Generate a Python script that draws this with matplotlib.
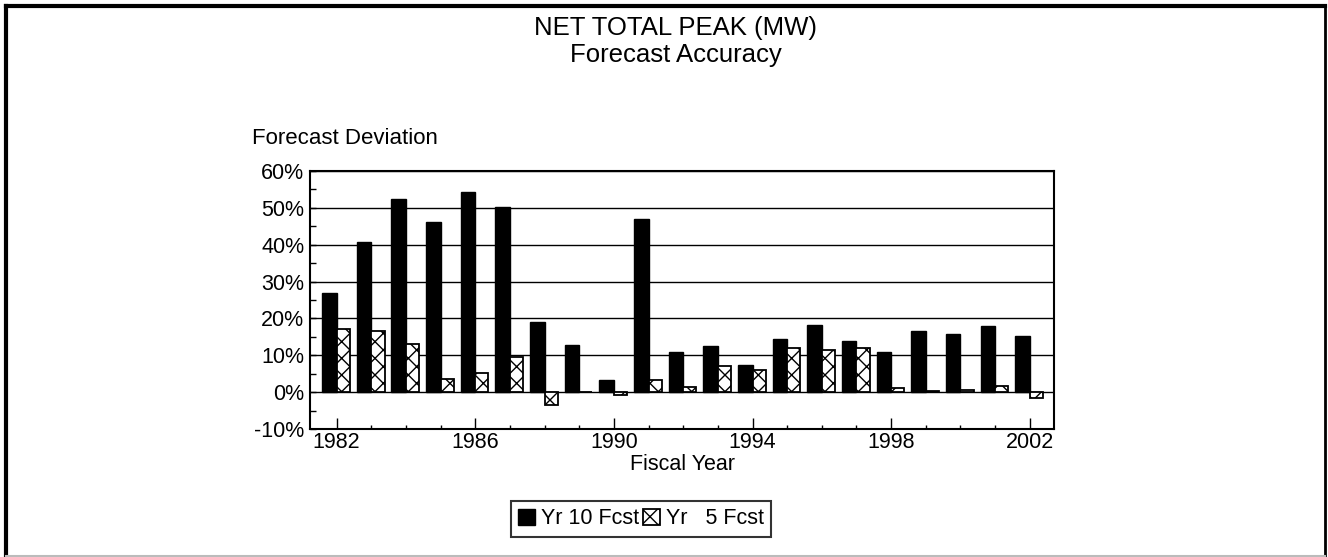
import numpy as np
import matplotlib.pyplot as plt
from matplotlib.lines import Line2D
from matplotlib.ticker import MultipleLocator, FixedLocator, FuncFormatter

plt.rcParams['font.family'] = ['Liberation Sans', 'DejaVu Sans']
plt.rcParams['hatch.linewidth'] = 1.0

years = np.arange(1982, 2003)
# forecast deviation, percent
yr10 = [26.8, 40.7, 52.3, 46.1, 54.3, 50.2, 19.1, 12.9, 3.4, 46.9, 10.9,
        12.4, 7.3, 14.3, 18.1, 14.0, 10.8, 16.5, 15.9, 18.0, 15.2]
yr5 = [17.1, 16.7, 13.1, 3.6, 5.1, 9.6, -3.4, 0.0, -0.9, 3.4, 1.4,
       7.1, 5.9, 12.1, 11.5, 12.1, 1.0, 0.3, 0.7, 1.6, -1.6]
labels = ['Yr 10 Fcst', 'Yr   5 Fcst']
year_ticks = [1982, 1986, 1990, 1994, 1998, 2002]

fig = plt.figure(figsize=(13.28, 5.57), dpi=100)
ax = fig.add_axes([310 / 1328, 1 - 429 / 557, (1054 - 310) / 1328, (429 - 171) / 557])

ax.bar(years - 0.42, yr10, width=0.42, align='edge', color='black',
       edgecolor='black', linewidth=1, label=labels[0], zorder=3)
ax.bar(years, yr5, width=0.38, align='edge', color='white', hatch='xx',
       edgecolor='black', linewidth=1.3, label=labels[1], zorder=3)

ax.set_xlim(1981.23, 2002.7)
ax.set_ylim(-10, 60)
ax.yaxis.set_major_locator(MultipleLocator(10))
ax.yaxis.set_minor_locator(MultipleLocator(5))
ax.yaxis.set_major_formatter(FuncFormatter(lambda v, p: f'{v:.0f}%'))
ax.xaxis.set_major_locator(FixedLocator(year_ticks))
ax.xaxis.set_minor_locator(MultipleLocator(1))
ax.tick_params(axis='both', which='both', direction='in', labelsize=15.5, width=1)
ax.tick_params(axis='x', which='major', length=8, pad=2)
ax.tick_params(axis='x', which='minor', length=3)
ax.tick_params(axis='y', which='major', length=4, pad=4)
ax.tick_params(axis='y', which='minor', length=4)
ax.grid(axis='y', color='black', linewidth=1, zorder=1)
ax.set_axisbelow(True)
for s in ax.spines.values():
    s.set_linewidth(1.5)

ax.set_xlabel('Fiscal Year', fontsize=15.5, labelpad=1)
fig.text(252 / 1328, 1 - 138 / 557, 'Forecast Deviation', fontsize=16,
         ha='left', va='center')

fig.text(676 / 1328, 1 - 28 / 557, 'NET TOTAL PEAK (MW)', fontsize=18.5,
         ha='center', va='center')
fig.text(676 / 1328, 1 - 55 / 557, 'Forecast Accuracy', fontsize=18.5,
         ha='center', va='center')

leg = fig.legend(loc='center', bbox_to_anchor=(641 / 1328, 1 - 519 / 557),
                 ncol=2, fontsize=15.5, frameon=True, fancybox=False,
                 handlelength=0.8, handleheight=0.8, handletextpad=0.25,
                 columnspacing=0.2, borderpad=0.35, borderaxespad=0)
leg.get_frame().set_edgecolor('black')
leg.get_frame().set_linewidth(1.5)

# page border
fig.add_artist(Line2D([6 / 1328, 6 / 1328], [1 - 556 / 557, 1 - 6 / 557],
                      transform=fig.transFigure, color='black', lw=3))
fig.add_artist(Line2D([6 / 1328, 1325 / 1328], [1 - 6 / 557, 1 - 6 / 557],
                      transform=fig.transFigure, color='black', lw=3))
fig.add_artist(Line2D([1325 / 1328, 1325 / 1328], [1 - 556 / 557, 1 - 6 / 557],
                      transform=fig.transFigure, color='black', lw=2))
fig.add_artist(Line2D([6 / 1328, 1325 / 1328], [1 - 555.5 / 557, 1 - 555.5 / 557],
                      transform=fig.transFigure, color='#bbbbbb', lw=1.5))

fig.savefig('out.png', dpi=100)
